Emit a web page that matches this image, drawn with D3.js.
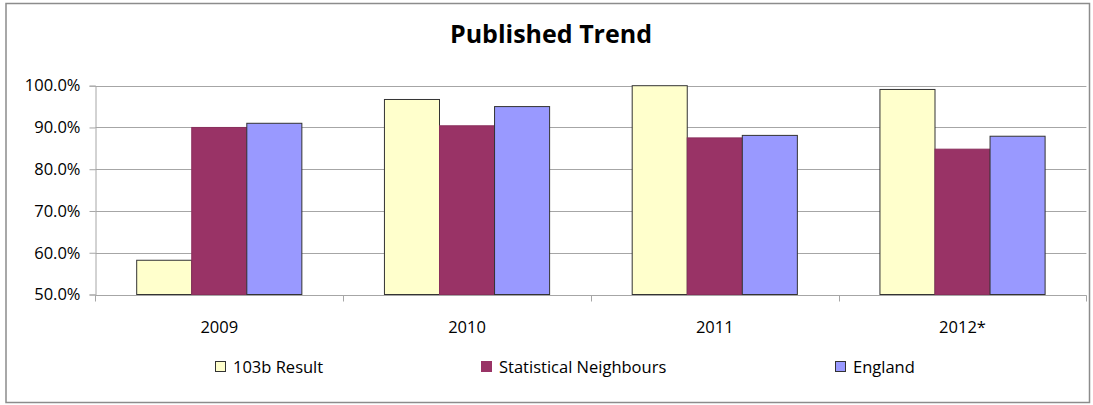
<!DOCTYPE html>
<html>
<head>
<meta charset="utf-8">
<script src="https://cdn.jsdelivr.net/npm/d3@7"></script>
<style>
  html, body { margin: 0; padding: 0; background: #fff; }
  svg { display: block; font-family: "Open Sans", "Noto Sans", sans-serif; }
</style>
</head>
<body>
<svg id="chart" width="1093" height="405"></svg>
<script>
const categories = ["2009", "2010", "2011", "2012*"];
const seriesNames = ["103b Result", "Statistical Neighbours", "England"];
const result103b = [58.2, 96.7, 100.0, 99.1];
const statNeighbours = [90.0, 90.4, 87.5, 84.8];
const england = [91.0, 95.0, 88.1, 87.9];
const yTicks = [50, 60, 70, 80, 90, 100];
const colors = ["#FFFFCC", "#993366", "#9999FF"];

const seriesValues = [result103b, statNeighbours, england];

const svg = d3.select("#chart");
const plot = { left: 95.4, right: 1086.4, top: 85.7, bottom: 294.5 };
const FS = 16.5;

// outer border
svg.append("rect")
  .attr("x", 6).attr("y", 3.5).attr("width", 1083.5).attr("height", 399)
  .attr("fill", "#fff").attr("stroke", "#8c8c8c").attr("stroke-width", 1.5);

// title
svg.append("text")
  .attr("x", 551).attr("y", 43)
  .attr("text-anchor", "middle")
  .attr("font-weight", "bold")
  .attr("font-size", 25)
  .attr("fill", "#000")
  .text("Published Trend");

const x0 = d3.scaleBand().domain(categories)
  .range([plot.left, plot.right])
  .paddingInner(1/3).paddingOuter(1/6);
const x1 = d3.scaleBand().domain(seriesNames)
  .range([0, x0.bandwidth()]).padding(0);
const y = d3.scaleLinear().domain([50, 100]).range([plot.bottom, plot.top]);

// gridlines
svg.append("g").selectAll("line").data(yTicks).join("line")
  .attr("x1", plot.left).attr("x2", plot.right)
  .attr("y1", d => Math.round(y(d)) + 0.5).attr("y2", d => Math.round(y(d)) + 0.5)
  .attr("stroke", "#a6a6a6").attr("stroke-width", 1);

// y axis
const yAxis = d3.axisLeft(y).tickValues(yTicks)
  .tickFormat(d => d.toFixed(1) + "%").tickSize(6).tickPadding(9);
const gy = svg.append("g").attr("transform", `translate(${Math.round(plot.left) + 0.5},0)`).call(yAxis);
gy.select(".domain").attr("stroke", "#a6a6a6");
gy.selectAll(".tick line").attr("stroke", "#a6a6a6");
gy.selectAll(".tick text").attr("font-size", FS).attr("fill", "#000")
  .attr("font-family", "'Open Sans', sans-serif");

// bars
const data = [];
categories.forEach((c, i) => {
  seriesNames.forEach((s, j) => {
    data.push({ cat: c, series: s, value: seriesValues[j][i], color: colors[j] });
  });
});

svg.append("g").selectAll("rect").data(data).join("rect")
  .attr("x", d => x0(d.cat) + x1(d.series))
  .attr("width", x1.bandwidth())
  .attr("y", d => y(d.value))
  .attr("height", d => y(50) - y(d.value))
  .attr("fill", d => d.color)
  .attr("stroke", d => d.series === "Statistical Neighbours" ? "#8a2f5c" : "#333")
  .attr("stroke-width", 1);

// x axis
const bottomY = Math.round(plot.bottom) + 0.5;
svg.append("line")
  .attr("x1", plot.left).attr("x2", plot.right)
  .attr("y1", bottomY).attr("y2", bottomY)
  .attr("stroke", "#a6a6a6");
const boundaries = d3.range(categories.length + 1).map(k => plot.left + k * x0.step());
svg.append("g").selectAll("line").data(boundaries).join("line")
  .attr("x1", d => Math.round(d) + 0.5).attr("x2", d => Math.round(d) + 0.5)
  .attr("y1", bottomY).attr("y2", bottomY + 6)
  .attr("stroke", "#a6a6a6");
svg.append("g").selectAll("text").data(categories).join("text")
  .attr("x", d => x0(d) + x0.bandwidth() / 2)
  .attr("y", 333)
  .attr("text-anchor", "middle")
  .attr("font-size", FS)
  .attr("fill", "#000")
  .text(d => d);

// legend
const legendX = [215, 481, 835];
const lg = svg.append("g").selectAll("g").data(seriesNames).join("g")
  .attr("transform", (d, i) => `translate(${legendX[i]},361)`);
lg.append("rect")
  .attr("x", 0.5).attr("y", 0.5).attr("width", 10).attr("height", 10)
  .attr("fill", (d, i) => colors[i])
  .attr("stroke", (d, i) => i === 1 ? "#993366" : "#333");
lg.append("text")
  .attr("x", 18).attr("y", 11.5)
  .attr("font-size", FS)
  .attr("fill", "#000")
  .text(d => d);
</script>
</body>
</html>
